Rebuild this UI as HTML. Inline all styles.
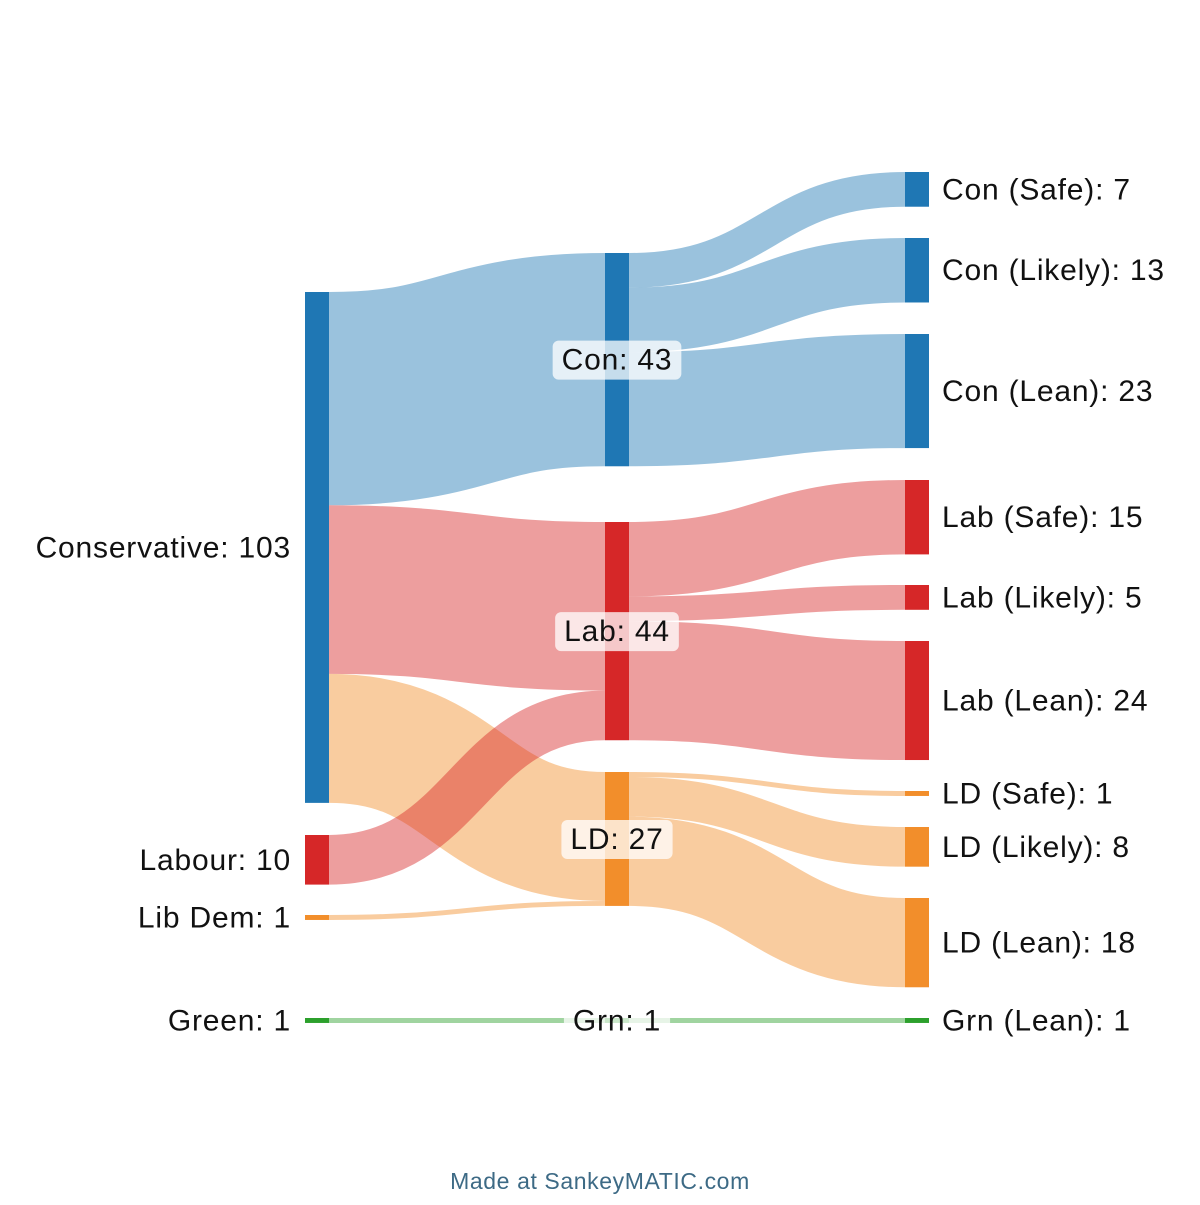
<!DOCTYPE html>
<html><head><meta charset="utf-8"><style>
body{margin:0;background:#fff;width:1200px;height:1200px;overflow:hidden}
text{font-family:"Liberation Sans",sans-serif}
</style></head><body>
<svg id="chart" width="1200" height="1200" xmlns="http://www.w3.org/2000/svg">
<g id="links"></g><g id="nodes"></g><g id="labels"></g>
<text x="600" y="1189" text-anchor="middle" font-size="23" letter-spacing="0.6" fill="#3d6a85">Made at SankeyMATIC.com</text>
</svg>
<script>
const nodeNames = ["Conservative","Labour","Lib Dem","Green","Con","Lab","LD","Grn","Con (Safe)","Con (Likely)","Con (Lean)","Lab (Safe)","Lab (Likely)","Lab (Lean)","LD (Safe)","LD (Likely)","LD (Lean)","Grn (Lean)"];
const nodeColumn = [0,0,0,0,1,1,1,1,2,2,2,2,2,2,2,2,2,2];
const nodeColors = ["#1f77b4","#d62728","#f28e2b","#2ca02c","#1f77b4","#d62728","#f28e2b","#2ca02c","#1f77b4","#1f77b4","#1f77b4","#d62728","#d62728","#d62728","#f28e2b","#f28e2b","#f28e2b","#2ca02c"];
const nodeTops = [292,835,915,1018,253,522,772,1018,172,238,334,480,585,641,791,827,898,1018];
const linkSources = [0,0,0,1,2,3,4,4,4,5,5,5,6,6,6,7];
const linkTargets = [4,5,6,5,6,7,8,9,10,11,12,13,14,15,16,17];
const linkValues = [43,34,26,10,1,1,7,13,23,15,5,24,1,8,18,1];

const K = 4.96, NW = 24, colX = [305,605,905];
const NS = "http://www.w3.org/2000/svg";
const n = nodeNames.length;
const inV = new Array(n).fill(0), outV = new Array(n).fill(0);
linkValues.forEach((v,i)=>{outV[linkSources[i]]+=v;inV[linkTargets[i]]+=v;});
const val = nodeNames.map((_,i)=>Math.max(inV[i],outV[i]));
const outOff = new Array(n).fill(0), inOff = new Array(n).fill(0);
const linksG = document.getElementById('links'), nodesG=document.getElementById('nodes'), labelsG=document.getElementById('labels');
linkValues.forEach((v,i)=>{
  const s=linkSources[i], t=linkTargets[i], h=v*K;
  const x0=colX[nodeColumn[s]]+NW, x1=colX[nodeColumn[t]];
  const y0=nodeTops[s]+outOff[s]+h/2, y1=nodeTops[t]+inOff[t]+h/2;
  outOff[s]+=h; inOff[t]+=h;
  const xm=(x0+x1)/2;
  const p=document.createElementNS(NS,'path');
  p.setAttribute('d',`M${x0},${y0}C${xm},${y0} ${xm},${y1} ${x1},${y1}`);
  p.setAttribute('fill','none');
  p.setAttribute('stroke',nodeColors[t]);
  p.setAttribute('stroke-opacity','0.45');
  p.setAttribute('stroke-width',Math.max(h,1));
  
  
  linksG.appendChild(p);
});
nodeNames.forEach((name,i)=>{
  const c=nodeColumn[i], x=colX[c], y=nodeTops[i], h=Math.max(val[i]*K,4);
  const r=document.createElementNS(NS,'rect');
  r.setAttribute('x',x);r.setAttribute('y',y);r.setAttribute('width',NW);r.setAttribute('height',h);
  r.setAttribute('fill',nodeColors[i]);
  
  
  nodesG.appendChild(r);
  const label=name+': '+val[i];
  const cy=y+h/2+10;
  const t=document.createElementNS(NS,'text');
  t.setAttribute('font-size','30');t.setAttribute('fill','#111');
  t.setAttribute('letter-spacing','0.8');
  t.textContent=label;
  
  
  if(c===0){t.setAttribute('x',x-14);t.setAttribute('y',cy);t.setAttribute('text-anchor','end');labelsG.appendChild(t);}
  else if(c===2){t.setAttribute('x',x+NW+13);t.setAttribute('y',cy);labelsG.appendChild(t);}
  else{
    t.setAttribute('x',x+NW/2);t.setAttribute('y',cy);t.setAttribute('text-anchor','middle');
    labelsG.appendChild(t);
    const bb=t.getBBox();
    const bg=document.createElementNS(NS,'rect');
    bg.setAttribute('x',bb.x-9);bg.setAttribute('y',bb.y-3);bg.setAttribute('width',bb.width+18);bg.setAttribute('height',bb.height+6);
    bg.setAttribute('rx',6);bg.setAttribute('fill','#fff');bg.setAttribute('fill-opacity','0.75');
    
    
    labelsG.insertBefore(bg,t);
  }
});
</script>
</body></html>
